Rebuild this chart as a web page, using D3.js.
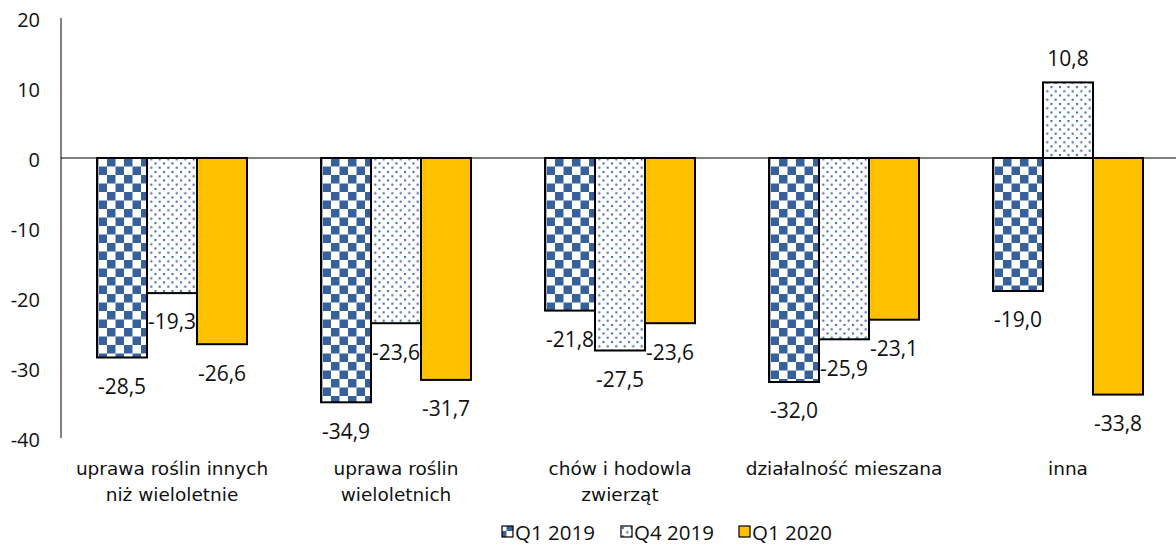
<!DOCTYPE html>
<meta charset="utf-8">
<style>
body { margin:0; background:#fff; }
text { fill:#111; }
</style>
<body>
<svg id="chart" width="1176" height="546"></svg>
<script src="https://cdn.jsdelivr.net/npm/d3@7"></script>
<script>

// data
var categories = [
  ["uprawa roślin innych", "niż wieloletnie"],
  ["uprawa roślin", "wieloletnich"],
  ["chów i hodowla", "zwierząt"],
  ["działalność mieszana"],
  ["inna"]
]
var seriesNames = ["Q1 2019", "Q4 2019", "Q1 2020"]
var q1_2019 = [-28.5, -34.9, -21.8, -32.0, -19.0]
var q4_2019 = [-19.3, -23.6, -27.5, -25.9, 10.8]
var q1_2020 = [-26.6, -31.7, -23.6, -23.1, -33.8]
var yTicks = [20, 10, 0, -10, -20, -30, -40]

var values = [q1_2019, q4_2019, q1_2020]
var fills = ["url(#checker)", "url(#dots)", "#FFC000"]
var blue = "#36619A"

var svg = d3.select("#chart")

// patterns
var defs = svg.append("defs")
var ch = defs.append("pattern").attr("id", "checker")
  .attr("patternUnits", "userSpaceOnUse").attr("width", 17).attr("height", 17)
  .attr("x", 98).attr("y", 158)
ch.append("rect").attr("width", 17).attr("height", 17).attr("fill", "#fff")
ch.append("rect").attr("width", 8.5).attr("height", 8.5).attr("fill", blue)
ch.append("rect").attr("x", 8.5).attr("y", 8.5).attr("width", 8.5).attr("height", 8.5).attr("fill", blue)

var dt = defs.append("pattern").attr("id", "dots")
  .attr("patternUnits", "userSpaceOnUse").attr("width", 8.5).attr("height", 8.5)
dt.append("rect").attr("width", 8.5).attr("height", 8.5).attr("fill", "#fff")
dt.append("rect").attr("x", 1).attr("y", 1).attr("width", 2).attr("height", 2).attr("fill", blue)
dt.append("rect").attr("x", 5.25).attr("y", 5.25).attr("width", 2).attr("height", 2).attr("fill", blue)

var x0 = d3.scaleBand().domain(d3.range(categories.length)).range([60, 1180])
var x1 = d3.scaleBand().domain(d3.range(seriesNames.length)).range([37, 187])
var y = d3.scaleLinear().domain([-40, 20]).range([438, 18])

// y axis
svg.append("line").attr("x1", 61).attr("x2", 61).attr("y1", y(20)).attr("y2", y(-40))
  .attr("stroke", "#000").attr("stroke-width", 1)
svg.append("g").selectAll("text").data(yTicks).join("text")
  .attr("x", 40).attr("y", d => y(d) + 2).attr("dy", "0.35em")
  .attr("text-anchor", "end")
  .style("font", "20px 'Open Sans'")
  .text(d => d)

// bars
var groups = svg.append("g").selectAll("g").data(categories).join("g")
  .attr("transform", (d, i) => "translate(" + x0(i) + ",0)")

groups.selectAll("rect").data((d, i) => values.map((v, s) => ({s: s, v: v[i]}))).join("rect")
  .attr("x", d => x1(d.s))
  .attr("width", x1.bandwidth())
  .attr("y", d => y(Math.max(0, d.v)))
  .attr("height", d => Math.abs(y(d.v) - y(0)))
  .attr("fill", d => fills[d.s])
  .attr("stroke", "#000").attr("stroke-width", 2)

// zero line
svg.append("line").attr("x1", 61).attr("x2", 1176).attr("y1", y(0)).attr("y2", y(0))
  .attr("stroke", "#000").attr("stroke-width", 1.2)

// value labels
groups.selectAll("text.val").data((d, i) => values.map((v, s) => ({s: s, v: v[i]}))).join("text")
  .attr("class", "val")
  .attr("x", d => x1(d.s) + x1.bandwidth() / 2)
  .attr("y", d => d.v < 0 ? y(d.v) + 29 : y(d.v) - 24)
  .attr("dy", "0.35em")
  .attr("text-anchor", "middle")
  .style("font", "21px 'Open Sans'")
  .text(d => d3.format(".1f")(d.v).replace(".", ",").replace("−", "-"))

// category labels
groups.append("text")
  .attr("x", 112).attr("y", 475)
  .attr("text-anchor", "middle")
  .style("font", "18.5px 'DejaVu Sans'")
  .selectAll("tspan").data(d => d).join("tspan")
  .attr("x", 112).attr("dy", (d, i) => i ? 26 : 0)
  .text(d => d)

// legend
var legX = [502, 621, 739]
var leg = svg.append("g").selectAll("g").data(seriesNames).join("g")
  .attr("transform", (d, i) => "translate(" + legX[i] + ",526)")
leg.append("rect").attr("width", 11).attr("height", 11)
  .attr("fill", (d, i) => fills[i]).attr("stroke", "#000").attr("stroke-width", 1.2)
leg.append("text").attr("x", 13).attr("y", 14)
  .style("font", "20.5px 'Open Sans'")
  .text(d => d)

</script>
